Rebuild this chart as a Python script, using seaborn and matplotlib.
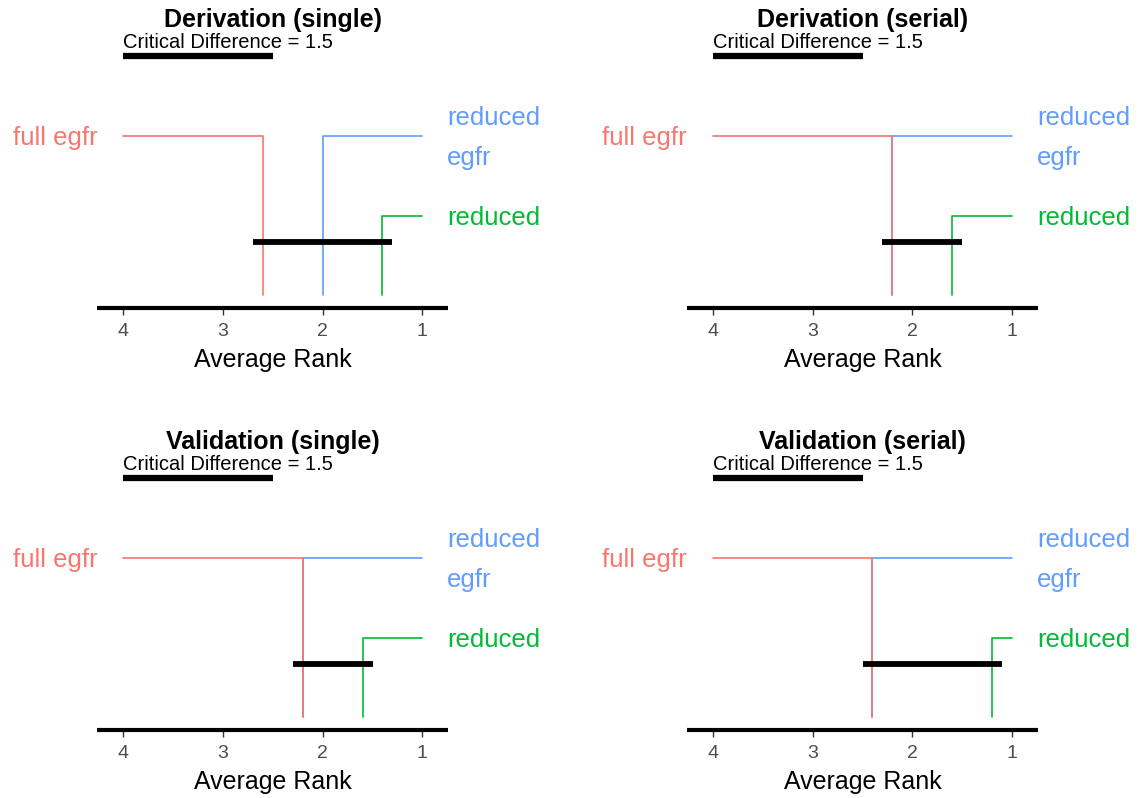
import matplotlib
matplotlib.use("Agg")
import matplotlib.pyplot as plt
import seaborn as sns


TITLES = ["Derivation (single)", "Derivation (serial)",
          "Validation (single)", "Validation (serial)"]
MODELS = ["full egfr", "reduced egfr", "reduced"]
COLORS = ["#F8766D", "#619CFF", "#00BA38"]

# average ranks per panel, same order as MODELS
rank_deriv_single = [2.6, 2.0, 1.4]
rank_deriv_serial = [2.2, 2.2, 1.6]
rank_valid_single = [2.2, 2.2, 1.6]
rank_valid_serial = [2.4, 2.4, 1.2]
RANKS = [rank_deriv_single, rank_deriv_serial, rank_valid_single, rank_valid_serial]

# groups that are not significantly different (indices into MODELS)
CLIQUES = [[[0, 1, 2]], [[0, 1, 2]], [[0, 1, 2]], [[0, 1, 2]]]

CRIT_DIFF = 1.5
RANK_TICKS = [4, 3, 2, 1]

sns.set_theme(style="white")
plt.rcParams["font.family"] = ["Liberation Sans", "DejaVu Sans"]

W, H = 1140, 798
fig = plt.figure(figsize=(W / 100, H / 100), dpi=100)

# layout in pixels
X_LO, X_HI = 4.26, 0.74
AX_W, AX_H = 351, 308
col_left = [97.3, 687.0]
row_top = [0, 422]
y_levels = [172, 172, 92]       # height of each model's elbow
y_bottom = 13
y_clique = 66

for i, (title, ranks, cliques) in enumerate(zip(TITLES, RANKS, CLIQUES)):
    left = col_left[i % 2]
    top = row_top[i // 2]
    ax = fig.add_axes([left / W, 1 - (top + AX_H) / H, AX_W / W, AX_H / H])

    # draw last model first so the worse-ranked line sits on top
    for j in reversed(range(len(MODELS))):
        r = ranks[j]
        start = RANK_TICKS[0] if j == 0 else RANK_TICKS[-1]
        sns.lineplot(x=[start, r, r], y=[y_levels[j], y_levels[j], y_bottom],
                     sort=False, estimator=None, color=COLORS[j],
                     linewidth=1.2, ax=ax)
        if j == 0:
            ax.text(X_LO, y_levels[j] - 2, MODELS[j], ha="right", va="center",
                    color=COLORS[j], fontsize=18.5)
        else:
            ax.text(X_HI + 0.01, y_levels[j] - 2, MODELS[j].replace(" ", "\n"),
                    ha="left", va="center", color=COLORS[j], fontsize=18.5,
                    linespacing=1.85)

    for members in cliques:
        rs = [ranks[m] for m in members]
        sns.lineplot(x=[max(rs) + 0.1, min(rs) - 0.1], y=[y_clique, y_clique],
                     estimator=None, color="black", linewidth=4.2, ax=ax,
                     zorder=5, solid_capstyle="butt")

    # critical difference bar
    sns.lineplot(x=[RANK_TICKS[0], RANK_TICKS[0] - CRIT_DIFF], y=[252, 252],
                 estimator=None, color="black", linewidth=4.5, ax=ax,
                 solid_capstyle="butt")
    ax.text(RANK_TICKS[0], 265, f"Critical Difference = {CRIT_DIFF}",
            ha="left", va="center", fontsize=14.5, color="black")
    ax.text((X_LO + X_HI) / 2, 288, title, ha="center", va="center",
            fontsize=18, fontweight="bold", color="black")

    ax.set_xlim(X_LO, X_HI)
    ax.set_ylim(0, AX_H)
    ax.set_facecolor("white")
    ax.grid(False)
    for side in ["top", "left", "right"]:
        ax.spines[side].set_visible(False)
    ax.spines["bottom"].set_linewidth(3)
    ax.spines["bottom"].set_color("black")
    ax.spines["bottom"].set_capstyle("butt")
    ax.set_xticks(RANK_TICKS)
    ax.set_yticks([])
    ax.tick_params(axis="x", bottom=True, length=5, width=1,
                   color="#333333", labelsize=14, labelcolor="#4D4D4D", pad=5.5)
    ax.set_xlabel("Average Rank", fontsize=18, labelpad=6, color="black")
    ax.set_ylabel("")

fig.savefig("out.png", dpi=100)
